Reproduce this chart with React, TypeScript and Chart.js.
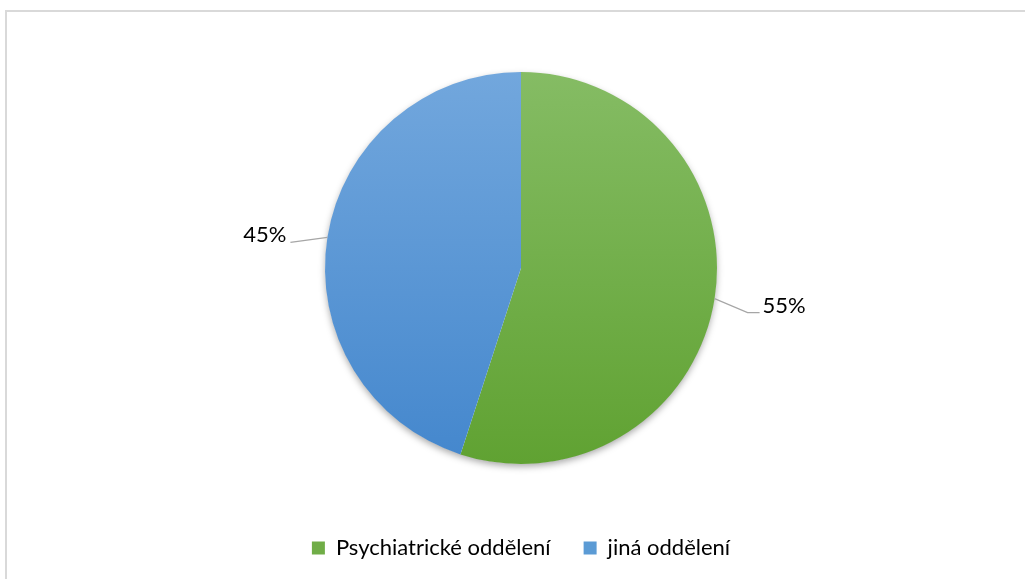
import React, { useEffect, useRef } from "react";
import { Chart, registerables } from "chart.js";

Chart.register(...registerables);

// ---- data ----
const categories = ["Psychiatrické oddělení", "jiná oddělení"];
const shares = [55, 45];
const shareLabels = ["55%", "45%"];

// ---- styles ----
const legendColors = ["#70AD47", "#5B9BD5"];
const gradientStops = [
  ["#85BC64", "#60A232"],
  ["#72A7DD", "#4487CD"],
];
const PIE_RADIUS = 196;
const FONT = "Lato, 'Noto Sans', sans-serif";

const shadowPlugin = {
  id: "pieShadow",
  beforeDatasetsDraw(chart: any) {
    const arc = chart.getDatasetMeta(0).data[0];
    if (!arc) return;
    const ctx = chart.ctx;
    ctx.save();
    ctx.shadowColor = "rgba(0,0,0,0.35)";
    ctx.shadowBlur = 7;
    ctx.shadowOffsetX = 0;
    ctx.shadowOffsetY = 3;
    ctx.beginPath();
    ctx.arc(arc.x, arc.y, arc.outerRadius - 0.5, 0, Math.PI * 2);
    ctx.fillStyle = "#ffffff";
    ctx.fill();
    ctx.restore();
  },
};

const labelPlugin = {
  id: "outsideLabels",
  afterDatasetsDraw(chart: any) {
    const ctx = chart.ctx;
    const meta = chart.getDatasetMeta(0);
    ctx.save();
    ctx.font = `22px ${FONT}`;
    ctx.fillStyle = "#000000";
    ctx.strokeStyle = "#A6A6A6";
    ctx.lineWidth = 1.2;
    ctx.textBaseline = "alphabetic";
    meta.data.forEach((arc: any, i: number) => {
      const mid = (arc.startAngle + arc.endAngle) / 2;
      const ex = arc.x + Math.cos(mid) * arc.outerRadius;
      const ey = arc.y + Math.sin(mid) * arc.outerRadius;
      ctx.beginPath();
      ctx.moveTo(ex, ey);
      if (Math.cos(mid) >= 0) {
        const bx = ex + 33;
        const by = ey + 14;
        ctx.lineTo(bx, by);
        ctx.lineTo(bx + 12, by);
        ctx.stroke();
        ctx.textAlign = "left";
        ctx.fillText(shareLabels[i], bx + 15, by);
      } else {
        const bx = ex - 37;
        const by = ey + 5;
        ctx.lineTo(bx, by);
        ctx.stroke();
        ctx.textAlign = "right";
        ctx.fillText(shareLabels[i], bx - 4, by);
      }
    });
    ctx.restore();
  },
};

export default function App() {
  const canvasRef = useRef<HTMLCanvasElement | null>(null);

  useEffect(() => {
    const canvas = canvasRef.current;
    if (!canvas) return;
    const chart = new Chart(canvas, {
      type: "pie",
      data: {
        labels: categories,
        datasets: [
          {
            data: shares,
            radius: PIE_RADIUS,
            borderWidth: 0,
            backgroundColor: (c: any) => {
              const area = c.chart.chartArea;
              const i = c.dataIndex;
              if (!area || i === undefined) return legendColors[i ?? 0];
              const cy = (area.top + area.bottom) / 2;
              const g = c.chart.ctx.createLinearGradient(0, cy - PIE_RADIUS, 0, cy + PIE_RADIUS);
              g.addColorStop(0, gradientStops[i][0]);
              g.addColorStop(1, gradientStops[i][1]);
              return g;
            },
          } as any,
        ],
      },
      options: {
        responsive: false,
        animation: false,
        layout: { padding: { left: 17, right: 0, top: 32, bottom: 10 } },
        plugins: {
          tooltip: { enabled: false },
          legend: {
            position: "bottom",
            labels: {
              boxWidth: 13,
              boxHeight: 13,
              padding: 33,
              color: "#000000",
              font: { family: FONT, size: 22 },
              generateLabels: () =>
                categories.map((text, i) => ({
                  text,
                  fillStyle: legendColors[i],
                  strokeStyle: legendColors[i],
                  lineWidth: 0,
                  hidden: false,
                  index: i,
                })),
            },
          },
        },
      },
      plugins: [shadowPlugin, labelPlugin],
    });
    return () => chart.destroy();
  }, []);

  return (
    <div style={{ position: "fixed", left: 0, top: 0, width: 1025, height: 579, overflow: "hidden", background: "#fff" }}>
      <div
        style={{
          position: "absolute",
          left: 5,
          top: 10,
          width: 1100,
          height: 700,
          border: "2px solid #D9D9D9",
        }}
      />
      <canvas
        ref={canvasRef}
        width={1025}
        height={579}
        style={{ position: "absolute", left: 0, top: 0, width: 1025, height: 579 }}
      />
    </div>
  );
}
